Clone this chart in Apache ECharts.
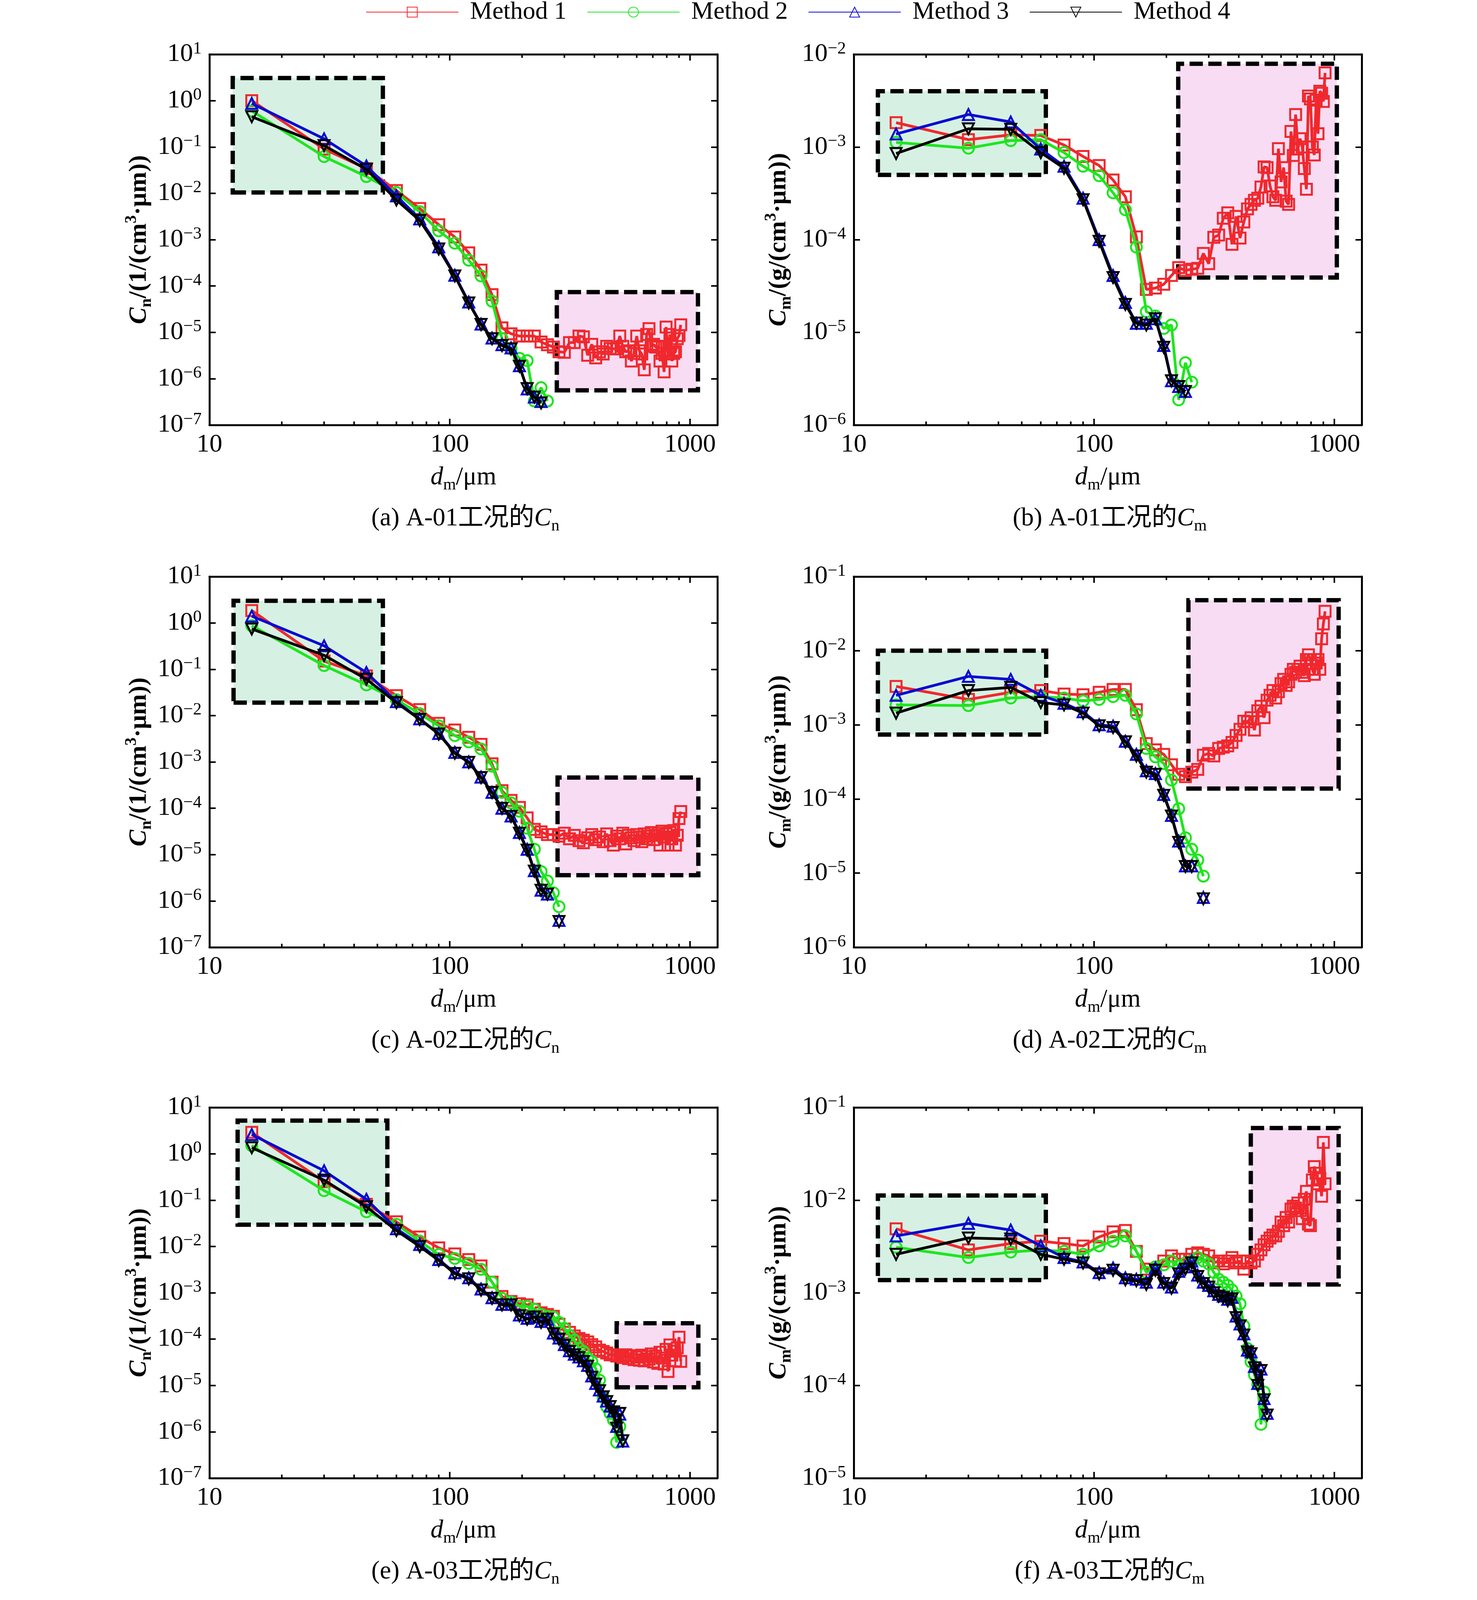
<!DOCTYPE html>
<html>
<head>
<meta charset="utf-8">
<script src="https://cdn.jsdelivr.net/npm/echarts@6.0.0/dist/echarts.min.js"></script>
<style>
html, body { margin: 0; padding: 0; background: #fff; }
#main { width: 3780px; height: 5379px; }
</style>
</head>
<body>
<div id="main"></div>
<script>
const chartDom = document.getElementById('main');
const myChart = echarts.init(chartDom);

// particle diameter bins (um)
const dm = [15, 30, 45, 60, 75, 90, 105, 120, 135, 150, 165, 180, 195, 210, 225, 240, 255, 270, 285, 300,
    315, 330, 345, 360, 375, 390, 405, 420, 435, 450, 465, 480, 495, 510, 525, 540, 555, 570, 585, 600,
    615, 630, 645, 660, 675, 690, 705, 720, 735, 750, 765, 780, 795, 810, 825, 840, 855, 870, 885, 900, 915];

// (a) A-01 Cn
const aM1 = [1.0, 0.09, 0.034, 0.0115, 0.0047, 0.0021, 0.00114, 5.2e-4, 2.2e-4, 6.5e-5, 1.25e-5, 9.3e-6, 8.3e-6, 8.3e-6, 8.3e-6, 6.2e-6, 5.4e-6, 4.8e-6,
    3.8e-6, 3.7e-6, 6.0e-6, 6.0e-6, 8.3e-6, 8.0e-6, 3.2e-6, 5.5e-6, 2.8e-6, 3.8e-6, 3.4e-6, 5.0e-6, 4.5e-6, 4.4e-6, 4.4e-6, 8.3e-6, 5e-6, 3.8e-6, 4e-6, 2.4e-6, 3.5e-6, 8.3e-6,
    4e-6, 3.4e-6, 1.55e-6, 9e-6, 1.2e-5, 5e-6, 5.5e-6, 4.8e-6, 5e-6, 2.4e-6, 3.5e-6, 1.4e-6, 1.3e-5, 3.4e-6, 9e-6, 2.4e-6, 3.5e-6, 3.8e-6, 7.3e-6, 8.5e-6, 1.45e-5];
const aM2 = [0.6, 0.062, 0.023, 0.0104, 0.004, 0.00155, 8.4e-4, 3.6e-4, 1.65e-4, 4.7e-5, 7.3e-6, 4.4e-6, 2.75e-6, 2.45e-6, 3.3e-7, 6.4e-7, 3.3e-7];
const aM3 = [0.87, 0.15, 0.039, 0.0088, 0.0028, 7.0e-4, 1.7e-4, 4.5e-5, 1.5e-5, 7.5e-6, 5.4e-6, 4.6e-6, 1.9e-6, 6.0e-7, 4.0e-7, 3.2e-7];
const aM4 = [0.45, 0.107, 0.033, 0.0072, 0.0026, 6.3e-4, 1.65e-4, 4.3e-5, 1.48e-5, 7.3e-6, 5.2e-6, 4.4e-6, 1.85e-6, 6.1e-7, 4.0e-7, 3.0e-7];

// (b) A-01 Cm
const bM1 = [1.83e-3, 1.2e-3, 1.35e-3, 1.33e-3, 1.05e-3, 7.9e-4, 6.3e-4, 4.4e-4, 2.9e-4, 1.07e-4, 2.9e-5, 3.0e-5, 3.3e-5, 4.1e-5, 5.0e-5, 4.65e-5, 4.8e-5,
    4.9e-5, 7.1e-5, 5.5e-5, 1.06e-4, 1.12e-4, 1.7e-4, 1.95e-4, 8.9e-5, 1.78e-4, 1.04e-4, 1.55e-4, 2.15e-4, 2.4e-4, 2.66e-4, 2.8e-4, 3.7e-4, 6.1e-4, 6.0e-4, 3.8e-4, 2.9e-4,
    2.66e-4, 9.6e-4, 4.2e-4, 6.0e-4, 2.6e-4, 2.4e-4, 1.47e-3, 8.1e-4, 2.24e-3, 9.5e-4, 1.23e-3, 1.0e-3, 5.85e-4, 3.5e-4, 3.55e-3, 3.3e-3, 1.0e-3, 8.2e-4, 3.2e-3, 1.39e-3,
    4.0e-3, 3.8e-3, 3.1e-3, 6.3e-3];
const bM2 = [1.12e-3, 9.7e-4, 1.17e-3, 1.2e-3, 8.7e-4, 6.2e-4, 4.9e-4, 3.2e-4, 2.1e-4, 8.3e-5, 1.67e-5, 1.5e-5, 1.1e-5, 1.2e-5, 1.87e-6, 4.7e-6, 2.9e-6];
const bM3 = [1.38e-3, 2.24e-3, 1.86e-3, 9.5e-4, 6.2e-4, 2.8e-4, 1.0e-4, 4.1e-5, 2.1e-5, 1.25e-5, 1.25e-5, 1.4e-5, 7.2e-6, 3.0e-6, 2.6e-6, 2.3e-6];
const bM4 = [8.5e-4, 1.57e-3, 1.55e-3, 8.7e-4, 5.9e-4, 2.7e-4, 9.6e-5, 3.9e-5, 2.0e-5, 1.26e-5, 1.2e-5, 1.4e-5, 6.9e-6, 3.0e-6, 2.6e-6, 2.3e-6];

// (c) A-02 Cn
const cM1 = [1.85, 0.15, 0.072, 0.027, 0.0135, 0.0068, 0.0049, 0.0034, 0.0024, 9.1e-4, 2.4e-4, 1.48e-4, 1.04e-4, 6.2e-5, 3.5e-5, 3.1e-5, 2.7e-5, 2.7e-5,
    2.5e-5, 2.9e-5, 2.2e-5, 2.6e-5, 2.0e-5, 1.8e-5, 2.3e-5, 2.7e-5, 2.1e-5, 2.4e-5, 1.9e-5, 2.8e-5, 2.0e-5, 1.6e-5, 2.5e-5, 2.2e-5, 2.9e-5, 1.7e-5, 2.6e-5, 2.3e-5,
    2.0e-5, 2.7e-5, 2.4e-5, 1.9e-5, 2.8e-5, 2.2e-5, 2.5e-5, 3.0e-5, 2.1e-5, 2.6e-5, 2.9e-5, 1.6e-5, 3.2e-5, 2.4e-5, 2.8e-5, 1.6e-5, 3.0e-5, 2.2e-5, 3.3e-5, 1.6e-5,
    2.6e-5, 6.0e-5, 8.5e-5];
const cM2 = [0.87, 0.12, 0.046, 0.022, 0.011, 0.006, 0.0037, 0.0027, 0.0019, 8.1e-4, 2.2e-4, 1.3e-4, 8.6e-5, 3.7e-5, 1.3e-5, 4.3e-6, 2.7e-6, 1.5e-6, 7.5e-7];
const cM3 = [1.4, 0.32, 0.085, 0.02, 0.0085, 0.0041, 0.0016, 0.001, 4.7e-4, 2.2e-4, 1.0e-4, 6.8e-5, 3.0e-5, 1.3e-5, 4.5e-6, 1.7e-6, 1.4e-6, null, 3.8e-7];
const cM4 = [0.74, 0.2, 0.061, 0.019, 0.0083, 0.004, 0.00154, 9.8e-4, 4.6e-4, 2.2e-4, 1.0e-4, 6.7e-5, 2.9e-5, 1.25e-5, 4.4e-6, 1.7e-6, 1.4e-6, null, 3.6e-7];

// (d) A-02 Cm
const dM1 = [3.3e-3, 2.2e-3, 2.75e-3, 2.9e-3, 2.6e-3, 2.55e-3, 2.75e-3, 3.0e-3, 3.0e-3, 1.6e-3, 5.6e-4, 4.6e-4, 4.0e-4, 2.9e-4, 2.15e-4, 2.0e-4, 2.3e-4, 2.5e-4,
    3.9e-4, 4.1e-4, 3.8e-4, 4.8e-4, 5.0e-4, 5.2e-4, 5.8e-4, 7.2e-4, 8.7e-4, 1.12e-3, 1.1e-3, 1.25e-3, 8.5e-4, 1.55e-3, 1.78e-3, 1.25e-3, 2.15e-3, 2.5e-3, 2.9e-3,
    2.3e-3, 2.8e-3, 3.6e-3, 4.1e-3, 3.4e-3, 3.8e-3, 4.8e-3, 5.6e-3, 5.1e-3, 5.6e-3, 6.2e-3, 5.1e-3, 4.6e-3, 7.6e-3, 8.8e-3, 7.6e-3, 5.6e-3, 4.8e-3, 6.8e-3, 7.6e-3,
    5.6e-3, 1.45e-2, 2.3e-2, 3.4e-2];
const dM2 = [1.86e-3, 1.82e-3, 2.3e-3, 2.4e-3, 2.3e-3, 2.1e-3, 2.2e-3, 2.4e-3, 2.5e-3, 1.4e-3, 4.8e-4, 3.7e-4, 3.0e-4, 1.8e-4, 7.4e-5, 3.0e-5, 2.1e-5, 1.5e-5, 9.1e-6];
const dM3 = [2.5e-3, 4.5e-3, 4.1e-3, 2.5e-3, 1.95e-3, 1.5e-3, 1.0e-3, 9.6e-4, 6.0e-4, 4.0e-4, 2.4e-4, 2.2e-4, 1.15e-4, 6.0e-5, 2.7e-5, 1.25e-5, 1.25e-5, null, 4.7e-6];
const dM4 = [1.44e-3, 2.9e-3, 3.2e-3, 2.0e-3, 1.86e-3, 1.44e-3, 9.7e-4, 9.2e-4, 5.9e-4, 3.8e-4, 2.3e-4, 2.15e-4, 1.12e-4, 5.9e-5, 2.6e-5, 1.23e-5, 1.23e-5, null, 4.5e-6];

// (e) A-03 Cn
const eM1 = [2.9, 0.25, 0.081, 0.034, 0.016, 0.0093, 0.0069, 0.0052, 0.0038, 0.0017, 8.3e-4, 6.5e-4, 5.8e-4, 5.5e-4, 4.4e-4, 3.7e-4, 3.4e-4, 3.1e-4, 2.1e-4,
    1.65e-4, 1.4e-4, 1.17e-4, 1.03e-4, 9.5e-5, 8.7e-5, 7.6e-5, 6.8e-5, 5.8e-5, 5.4e-5, 5.0e-5, 4.6e-5, 4.6e-5, 4.3e-5,
    4.3e-5, 4.0e-5, 4.6e-5, 3.8e-5, 4.4e-5, 3.6e-5, 4.1e-5, 3.5e-5, 4.5e-5, 3.4e-5, 4.2e-5, 3.7e-5, 4.8e-5, 3.2e-5, 4.3e-5, 3.0e-5, 5.2e-5, 3.9e-5, 2.9e-5, 6.0e-5,
    2.0e-5, 7.5e-5, 4.5e-5, 5.5e-5, 3.4e-5, 6.5e-5, 1.1e-4, 3.3e-5];
const eM2 = [1.5, 0.16, 0.056, 0.03, 0.013, 0.0067, 0.0055, 0.0043, 0.0032, 0.0017, 7.6e-4, 6.3e-4, 5.1e-4, 5.1e-4, 4.4e-4, 3.4e-4, 3.1e-4, 3.0e-4, 2.3e-4,
    1.7e-4, 1.2e-4, 9.5e-5, 6.3e-5, 5.4e-5, 3.9e-5, 3.3e-5, 2.3e-5, 1.3e-5, 5.6e-6, 3.5e-6, 2.5e-6, 1.8e-6, 5.9e-7, 1.3e-6];
const eM3 = [2.6, 0.43, 0.104, 0.024, 0.011, 0.0052, 0.0027, 0.0021, 0.0012, 7.8e-4, 5.6e-4, 5.6e-4, 3.3e-4, 2.8e-4, 3.0e-4, 2.4e-4, 2.7e-4, 1.35e-4, 1.05e-4,
    7.6e-5, 5.6e-5, 4.7e-5, 4.1e-5, 3.4e-5, 2.7e-5, 1.6e-5, 1.1e-5, 8.0e-6, 5.9e-6, 4.6e-6, 3.6e-6, 2.8e-6, 1.3e-6, 2.4e-6, 6.3e-7];
const eM4 = [1.35, 0.27, 0.072, 0.022, 0.01, 0.005, 0.0026, 0.002, 0.00115, 7.6e-4, 5.5e-4, 5.5e-4, 3.2e-4, 2.7e-4, 3.0e-4, 2.3e-4, 2.7e-4, 1.3e-4, 1.0e-4,
    7.4e-5, 5.4e-5, 4.6e-5, 4.0e-5, 3.3e-5, 2.6e-5, 1.5e-5, 1.07e-5, 7.7e-6, 5.7e-6, 4.5e-6, 3.5e-6, 2.7e-6, 1.2e-6, 2.5e-6, 6.4e-7];

// (f) A-03 Cm
const fM1 = [4.9e-3, 2.9e-3, 3.4e-3, 3.6e-3, 3.4e-3, 3.2e-3, 4.0e-3, 4.55e-3, 4.7e-3, 2.8e-3, 1.8e-3, 1.78e-3, 2.2e-3, 2.5e-3, 2.3e-3, 2.3e-3, 2.6e-3, 2.7e-3,
    2.6e-3, 2.5e-3, 2.1e-3, 2.2e-3, 2.05e-3, 2.2e-3, 2.4e-3, 2.1e-3, 2.2e-3, 1.8e-3, 2.2e-3, 2.1e-3, 2.2e-3, 2.6e-3, 2.9e-3, 3.3e-3, 3.6e-3, 3.9e-3, 4.2e-3,
    4.1e-3, 4.6e-3, 5.8e-3, 5.3e-3, 6.5e-3, 5.8e-3, 8.0e-3, 8.6e-3, 8.2e-3, 9.3e-3, 7.7e-3, 6.3e-3, 1.02e-2, 1.24e-2, 5.5e-3, 5.3e-3, 1.65e-2, 2.3e-2, 1.95e-2,
    1.5e-2, 1.7e-2, 1.1e-2, 4.2e-2, 1.5e-2];
const fM2 = [3.1e-3, 2.4e-3, 2.75e-3, 2.9e-3, 2.8e-3, 2.6e-3, 3.2e-3, 3.6e-3, 4.1e-3, 2.8e-3, 1.66e-3, 1.9e-3, 2.0e-3, 2.2e-3, 1.95e-3, 2.1e-3, 2.2e-3, 2.4e-3,
    2.2e-3, 2.05e-3, 1.66e-3, 1.4e-3, 1.3e-3, 1.2e-3, 1.07e-3, 9.2e-4, 7.6e-4, 4.4e-4, 2.5e-4, 1.8e-4, 1.3e-4, 1.03e-4, 3.8e-5, 8.5e-5];
const fM3 = [4.1e-3, 5.6e-3, 4.75e-3, 3.2e-3, 2.4e-3, 2.15e-3, 1.65e-3, 1.85e-3, 1.45e-3, 1.4e-3, 1.3e-3, 1.85e-3, 1.3e-3, 1.15e-3, 1.7e-3, 1.9e-3, 2.2e-3,
    1.55e-3, 1.3e-3, 1.2e-3, 1.05e-3, 9.6e-4, 9.2e-4, 8.5e-4, 8.9e-4, 5.6e-4, 4.6e-4, 3.6e-4, 2.4e-4, 2.3e-4, 1.6e-4, 1.05e-4, 1.5e-4, 7.2e-5, 5.0e-5];
const fM4 = [2.6e-3, 3.9e-3, 3.8e-3, 2.6e-3, 2.3e-3, 2.1e-3, 1.6e-3, 1.75e-3, 1.38e-3, 1.35e-3, 1.23e-3, 1.75e-3, 1.26e-3, 1.12e-3, 1.6e-3, 1.8e-3, 2.1e-3,
    1.5e-3, 1.26e-3, 1.15e-3, 1.0e-3, 9.2e-4, 8.9e-4, 8.2e-4, 8.6e-4, 5.4e-4, 4.4e-4, 3.5e-4, 2.3e-4, 2.2e-4, 1.55e-4, 1.0e-4, 1.45e-4, 7e-5, 4.8e-5];

// (g) A-04 Cn
const gM1 = [0.039, 0.0036, 1.8e-3, 1.1e-3, 6.0e-4, 4.5e-4, 3.9e-4, 3.55e-4, 3.6e-4, 2.45e-4, 1.2e-4, 1.73e-4, 1.55e-4, 1.02e-4, 7.6e-5, 7.4e-5, 1.0e-4,
    1.1e-4, 1.3e-4, 1.4e-4, 1.6e-4, 2.1e-4, 2.45e-4, 3.2e-4, 3.35e-4, 3.55e-4, 3.7e-4, 3.35e-4, 3.2e-4, 3.0e-4, 2.65e-4, 2.3e-4, 2.1e-4, 2.1e-4, 1.9e-4, 1.6e-4,
    1.45e-4, 1.3e-4, 1.0e-4, 6.3e-5, 5.0e-5, 4.0e-5, 3.0e-5, 2.4e-5, 1.5e-5, 7.4e-6, 5.8e-6, 4.6e-6, 3.1e-6, 4.0e-6, 5.8e-6, 4.6e-6, 6.6e-6, 3.2e-6, 1.1e-5,
    5.8e-6, 5.5e-6, 3.2e-6, 7.4e-6, 7.8e-6];
const gM2 = [0.015, 2.6e-3, 1.4e-3, 7.6e-4, 4.8e-4, 3.5e-4, 3.3e-4, 3.1e-4, 3.0e-4, 2.1e-4, 1.2e-4, 1.2e-4, 1.6e-4, 1.2e-4, 8.5e-5, 8.0e-5, 1.0e-4, 1.15e-4,
    1.37e-4, 1.55e-4, 1.7e-4, 2.0e-4, 2.4e-4, 3.0e-4, 3.55e-4, 4.0e-4, 4.0e-4, 3.55e-4, 3.2e-4, 2.8e-4, 2.5e-4, 2.2e-4, 2.0e-4, 1.8e-4, 1.6e-4, 1.45e-4, 1.2e-4,
    8.5e-5, 6.3e-5, 4.4e-5, 3.5e-5, 2.6e-5, 2.0e-5, 1.5e-5, 1.1e-5, 6.6e-6, 4.2e-6, 5.8e-6, 7.0e-6, 3.7e-6, 2.6e-6, 2.2e-6, 2.4e-6, 2.15e-6];
const gM3 = [0.026, 8.1e-3, 3.0e-3, 1.3e-3, 7.6e-4, 4.2e-4, 2.3e-4, 2.0e-4, 1.3e-4, 1.1e-4, 1.05e-4, 1.8e-4, 1.25e-4, 7.6e-5, 6.2e-5, 6.0e-5, 8.4e-5, 9.4e-5,
    1.05e-4, 1.25e-4, 1.45e-4, 1.7e-4, 2.15e-4, 2.6e-4, 2.9e-4, 3.1e-4, 3.1e-4, 3.1e-4, 3.0e-4, 2.9e-4, 2.6e-4, 2.4e-4, 2.2e-4, 2.1e-4, 2.0e-4, 1.85e-4, 1.7e-4,
    1.4e-4, 1.05e-4, 8.0e-5, 6.6e-5, 5.0e-5, 3.9e-5, 2.3e-5, 1.4e-5, 1.05e-5, 4.8e-6, 2.4e-6, 1.45e-6, 1.25e-6];
const gM4 = [0.0102, 4.1e-3, 2.1e-3, 9.1e-4, 6.0e-4, 3.7e-4, 2.1e-4, 1.86e-4, 1.2e-4, 1.02e-4, 1.0e-4, 1.66e-4, 1.2e-4, 7.3e-5, 6.0e-5, 5.8e-5, 8.0e-5, 9.0e-5,
    1.0e-4, 1.2e-4, 1.4e-4, 1.66e-4, 2.1e-4, 2.5e-4, 2.8e-4, 3.0e-4, 3.0e-4, 3.0e-4, 2.9e-4, 2.8e-4, 2.5e-4, 2.3e-4, 2.1e-4, 2.0e-4, 1.9e-4, 1.75e-4, 1.6e-4,
    1.3e-4, 1.0e-4, 7.6e-5, 6.3e-5, 4.7e-5, 3.7e-5, 2.2e-5, 1.35e-5, 1.0e-5, 4.6e-6, 2.3e-6, 1.4e-6, 1.2e-6];

// (h) A-04 Cm
const hM1 = [6.9e-5, 5.0e-5, 9.1e-5, 1.02e-4, 1.23e-4, 1.6e-4, 2.3e-4, 3.2e-4, 4.6e-4, 4.2e-4, 2.9e-4, 5.6e-4, 6.3e-4, 6.1e-4, 5.0e-4, 5.5e-4, 8.7e-4, 1.1e-3,
    1.4e-3, 1.75e-3, 2.2e-3, 2.8e-3, 3.9e-3, 5.3e-3, 7.3e-3, 1.05e-2, 1.33e-2, 1.3e-2, 1.3e-2, 1.33e-2, 1.35e-2, 1.4e-2, 1.43e-2, 1.5e-2, 1.55e-2, 1.5e-2, 1.1e-2,
    8.2e-3, 6.3e-3, 5.0e-3, 3.7e-3, 2.9e-3, 2.4e-3, 2.1e-3, 2.0e-3, 1.2e-3, 9.3e-4, 6.0e-4, 3.4e-4, 9.5e-4, 1.45e-3, 8.6e-4, 1.6e-3, 1.1e-3, 3.4e-3, 3.1e-3,
    1.1e-3, 2.0e-3, 2.8e-3, 3.3e-3];
const hM2 = [2.6e-5, 3.7e-5, 6.8e-5, 8.9e-5, 1.05e-4, 1.34e-4, 1.85e-4, 2.6e-4, 3.9e-4, 3.7e-4, 2.8e-4, 3.7e-4, 6.3e-4, 5.6e-4, 5.2e-4, 5.4e-4, 7.5e-4, 1.0e-3,
    1.33e-3, 1.75e-3, 2.2e-3, 2.9e-3, 4.5e-3, 6.2e-3, 9.3e-3, 1.33e-2, 1.2e-2, 1.1e-2, 1.05e-2, 1.0e-2, 1.2e-2, 1.1e-2, 1.05e-2, 1.1e-2, 1.05e-2, 1.0e-2, 8.5e-3,
    6.5e-3, 5.0e-3, 4.2e-3, 3.6e-3, 3.0e-3, 2.5e-3, 2.1e-3, 1.7e-3, 1.8e-3, 1.5e-3, 1.3e-3, 1.3e-3, 1.5e-3, 8.7e-4, 5.0e-4, 4.6e-4, 5.6e-4, 7.1e-4];
const hM3 = [4.5e-5, 1.12e-4, 1.48e-4, 1.34e-4, 1.4e-4, 1.45e-4, 1.5e-4, 1.9e-4, 2.0e-4, 2.2e-4, 2.7e-4, 5.6e-4, 5.0e-4, 3.6e-4, 4.5e-4, 5.1e-4, 8.5e-4, 1.08e-3,
    1.3e-3, 1.75e-3, 2.2e-3, 2.75e-3, 3.8e-3, 5.0e-3, 7.0e-3, 9.6e-3, 1.2e-2, 1.35e-2, 1.4e-2, 1.45e-2, 1.55e-2, 1.55e-2, 1.55e-2, 1.65e-2, 1.75e-2, 1.7e-2, 1.55e-2,
    1.2e-2, 9.5e-3, 7.8e-3, 6.4e-3, 5.0e-3, 3.9e-3, 3.3e-3, 2.7e-3, 2.3e-3, 1.9e-3, 1.65e-3, 5.0e-4, 2.8e-4, 3.5e-4];
const hM4 = [1.8e-5, 5.9e-5, 9.8e-5, 1.03e-4, 1.32e-4, 1.5e-4, 1.3e-4, 1.8e-4, 1.85e-4, 2.1e-4, 2.6e-4, 5.3e-4, 4.8e-4, 3.5e-4, 4.4e-4, 5.0e-4, 8.3e-4, 1.05e-3,
    1.27e-3, 1.7e-3, 2.15e-3, 2.7e-3, 3.7e-3, 4.9e-3, 6.8e-3, 9.3e-3, 1.18e-2, 1.33e-2, 1.38e-2, 1.43e-2, 1.5e-2, 1.5e-2, 1.5e-2, 1.6e-2, 1.7e-2, 1.65e-2, 1.5e-2,
    1.18e-2, 9.3e-3, 7.6e-3, 6.2e-3, 4.9e-3, 3.8e-3, 3.2e-3, 2.6e-3, 2.2e-3, 1.8e-3, 1.6e-3, 4.8e-4, 2.7e-4, 3.4e-4];

// axis ranges per panel (a..h)
const yMinList = [1e-7, 1e-6, 1e-7, 1e-6, 1e-7, 1e-5, 1e-7, 1e-5];
const yMaxList = [10, 1e-2, 10, 1e-1, 10, 1e-1, 1e-1, 1e-1];

// highlighted boxes: [x1, y1, x2, y2]
const greenBox = [[12.5, 0.0104, 52.7, 3.08], [12.6, 5.0e-4, 63, 4.0e-3], [12.6, 0.019, 52.7, 3.0], [12.6, 7.4e-4, 63.2, 1.0e-2],
    [13.1, 0.0295, 55, 5.2], [12.6, 1.37e-3, 63, 1.12e-2], [12.9, 1.34e-3, 53.8, 6.2e-2], [13.2, 1.3e-5, 63.2, 2.0e-4]];
const pinkBox = [[279, 5.6e-7, 1079, 7.4e-5], [224, 3.9e-5, 1024, 7.9e-3], [281, 3.6e-6, 1083, 4.6e-4], [247, 1.38e-4, 1042, 4.8e-2],
    [495, 9.1e-6, 1083, 2.2e-4], [449, 1.23e-3, 1042, 6.0e-2], [551, 7.6e-7, 1138, 1.7e-5], [507, 1.95e-4, 1054, 4.7e-3]];

const captionId = ['a', 'b', 'c', 'd', 'e', 'f', 'g', 'h'];
const caseName = ['A-01', 'A-01', 'A-02', 'A-02', 'A-03', 'A-03', 'A-04', 'A-04'];
const quantity = ['n', 'm', 'n', 'm', 'n', 'm', 'n', 'm'];
const methodNames = ['Method 1', 'Method 2', 'Method 3', 'Method 4'];
const xLabels = [10, 100, 1000];
const minorTicks = [20, 30, 40, 50, 60, 70, 80, 90, 200, 300, 400, 500, 600, 700, 800, 900];
const majorTicks = [100, 1000];

const panelData = [
    [aM1, aM2, aM3, aM4], [bM1, bM2, bM3, bM4], [cM1, cM2, cM3, cM4], [dM1, dM2, dM3, dM4],
    [eM1, eM2, eM3, eM4], [fM1, fM2, fM3, fM4], [gM1, gM2, gM3, gM4], [hM1, hM2, hM3, hM4]
];

// layout
const SERIF = '"Liberation Serif", "Times New Roman", "Noto Sans CJK SC", serif';
const colLeft = [536, 2185];
const rowTop = [139, 1476, 2835, 4149];
const plotW = 1300;
const plotH = 949;

const colors = ['#f0282d', '#1ee61e', '#0a0ad2', '#000000'];
const symbols = ['rect', 'circle', 'triangle', 'path://M0,0L10,0L5,9Z'];

const tickRich = {
    b: { fontFamily: SERIF, fontSize: 66, lineHeight: 72, color: '#000' },
    p: { fontFamily: SERIF, fontSize: 44, lineHeight: 44, verticalAlign: 'top', color: '#000' }
};
const yNameRich = {
    i: { fontFamily: SERIF, fontSize: 64, fontWeight: 'bold', fontStyle: 'italic', lineHeight: 80, color: '#000' },
    s: { fontFamily: SERIF, fontSize: 42, fontWeight: 'bold', lineHeight: 42, verticalAlign: 'bottom', color: '#000' },
    p: { fontFamily: SERIF, fontSize: 42, fontWeight: 'bold', lineHeight: 42, verticalAlign: 'top', color: '#000' },
    r: { fontFamily: SERIF, fontSize: 64, fontWeight: 'bold', lineHeight: 80, color: '#000' }
};
const plainRich = {
    i: { fontFamily: SERIF, fontSize: 65, fontWeight: 'normal', fontStyle: 'italic', lineHeight: 80, color: '#000' },
    s: { fontFamily: SERIF, fontSize: 42, fontWeight: 'normal', lineHeight: 42, verticalAlign: 'bottom', color: '#000' },
    r: { fontFamily: SERIF, fontSize: 65, fontWeight: 'normal', lineHeight: 80, color: '#000' }
};

powLabel = (v) => {
    const e = Math.round(Math.log10(v));
    if (Math.abs(Math.pow(10, e) - v) / v > 1e-6) return '';
    return `{b|10}{p|${e < 0 ? '\u2212' + (-e) : e}}`;
};

xLabel = (v) => {
    const r = Math.round(v);
    return xLabels.includes(r) && Math.abs(v - r) < 1e-6 ? String(r) : '';
};

toPairs = (arr) => arr.map((y, i) => [dm[i], y === null ? null : y]);

const axisLine = { show: true, onZero: false, lineStyle: { color: '#000', width: 5 } };

const option = {
    backgroundColor: '#fff',
    animation: false,
    legend: {
        data: methodNames,
        left: 931,
        top: -6,
        itemWidth: 236,
        itemHeight: 32,
        itemGap: 52,
        selectedMode: false,
        textStyle: { fontFamily: SERIF, fontSize: 64, color: '#000', padding: [0, 0, 0, 25] }
    },
    title: [],
    grid: [],
    xAxis: [],
    yAxis: [],
    series: []
};

panelData.forEach((list, k) => {
    const left = colLeft[k % 2];
    const top = rowTop[Math.floor(k / 2)];
    const yMin = yMinList[k];
    const yMax = yMaxList[k];
    const decades = Math.round(Math.log10(yMax / yMin));

    option.grid.push({ left, top, width: plotW, height: plotH, containLabel: false });

    option.xAxis.push({
        type: 'log', gridIndex: k, min: 10, max: 1300, position: 'bottom',
        axisLine, axisTick: { show: false }, splitLine: { show: false },
        axisLabel: { formatter: xLabel, margin: 18, fontFamily: SERIF, fontSize: 66, color: '#000' },
        name: '{i|d}{s|m}{r|/\u03bcm}', nameLocation: 'middle', nameGap: 95,
        nameTextStyle: { rich: plainRich }
    });
    option.xAxis.push({
        type: 'log', gridIndex: k, min: 10, max: 1300, position: 'top',
        axisLine, axisTick: { show: false }, axisLabel: { show: false }, splitLine: { show: false }
    });

    const yName = quantity[k] === 'n'
        ? '{i|C}{s|n}{r|/(1/(cm}{p|3}{r|\u00b7\u03bcm))}'
        : '{i|C}{s|m}{r|/(g/(cm}{p|3}{r|\u00b7\u03bcm))}';
    option.yAxis.push({
        type: 'log', gridIndex: k, min: yMin, max: yMax, splitNumber: decades, position: 'left',
        axisLine, splitLine: { show: false },
        axisTick: { inside: true, length: 16, lineStyle: { color: '#000', width: 4 } },
        axisLabel: { formatter: powLabel, margin: 20, rich: tickRich },
        name: yName, nameLocation: 'middle', nameRotate: 90, nameGap: k % 2 ? 152 : 140,
        nameTextStyle: { rich: yNameRich }
    });
    option.yAxis.push({
        type: 'log', gridIndex: k, min: yMin, max: yMax, splitNumber: decades, position: 'right',
        axisLine, splitLine: { show: false }, axisLabel: { show: false },
        axisTick: { inside: true, length: 16, lineStyle: { color: '#000', width: 4 } }
    });

    // dashed highlight boxes
    const g = greenBox[k];
    const p = pinkBox[k];
    option.series.push({
        type: 'line', name: 'box', xAxisIndex: 2 * k, yAxisIndex: 2 * k, data: [], z: 1, silent: true,
        markArea: {
            silent: true,
            label: { show: false },
            itemStyle: { borderColor: '#000', borderWidth: 11, borderType: [34, 14] },
            data: [
                [{ coord: [g[0], g[1]], itemStyle: { color: '#d6f1e3' } }, { coord: [g[2], g[3]] }],
                [{ coord: [p[0], p[1]], itemStyle: { color: '#f8dcf4' } }, { coord: [p[2], p[3]] }]
            ]
        }
    });

    list.forEach((arr, j) => {
        option.series.push({
            type: 'line', name: methodNames[j], xAxisIndex: 2 * k, yAxisIndex: 2 * k,
            data: toPairs(arr), connectNulls: false,
            symbol: symbols[j], symbolSize: 28, z: 3 + j,
            lineStyle: { color: colors[j], width: 7 },
            itemStyle: { color: 'rgba(255,255,255,0)', borderColor: colors[j], borderWidth: 5 },
            emphasis: { disabled: true }
        });
    });

    // log minor ticks on top and bottom edges
    option.series.push({
        type: 'custom', name: 'ticks', xAxisIndex: 2 * k, yAxisIndex: 2 * k, silent: true, clip: false, z: 10,
        data: minorTicks.map(v => [v, yMin, 0]).concat(majorTicks.map(v => [v, yMin, 1])),
        encode: { x: 0, y: 1 },
        renderItem: (params, api) => {
            const v = api.value(0);
            const len = api.value(2) ? 16 : 9;
            const pTop = api.coord([v, yMax]);
            const pBot = api.coord([v, yMin]);
            const style = { stroke: '#000', lineWidth: 4 };
            return {
                type: 'group',
                children: [
                    { type: 'line', shape: { x1: pTop[0], y1: pTop[1], x2: pTop[0], y2: pTop[1] + len }, style },
                    { type: 'line', shape: { x1: pBot[0], y1: pBot[1], x2: pBot[0], y2: pBot[1] - len }, style }
                ]
            };
        }
    });

    option.title.push({
        text: `{r|(${captionId[k]}) ${caseName[k]}\u5de5\u51b5\u7684}{i|C}{s|${quantity[k]}}`,
        left: left + plotW / 2,
        top: top + plotH + 195,
        textAlign: 'center',
        textStyle: { fontWeight: 'normal', rich: plainRich }
    });
});

myChart.setOption(option);

window.addEventListener('resize', () => {
    myChart.resize();
});
</script>
</body>
</html>
